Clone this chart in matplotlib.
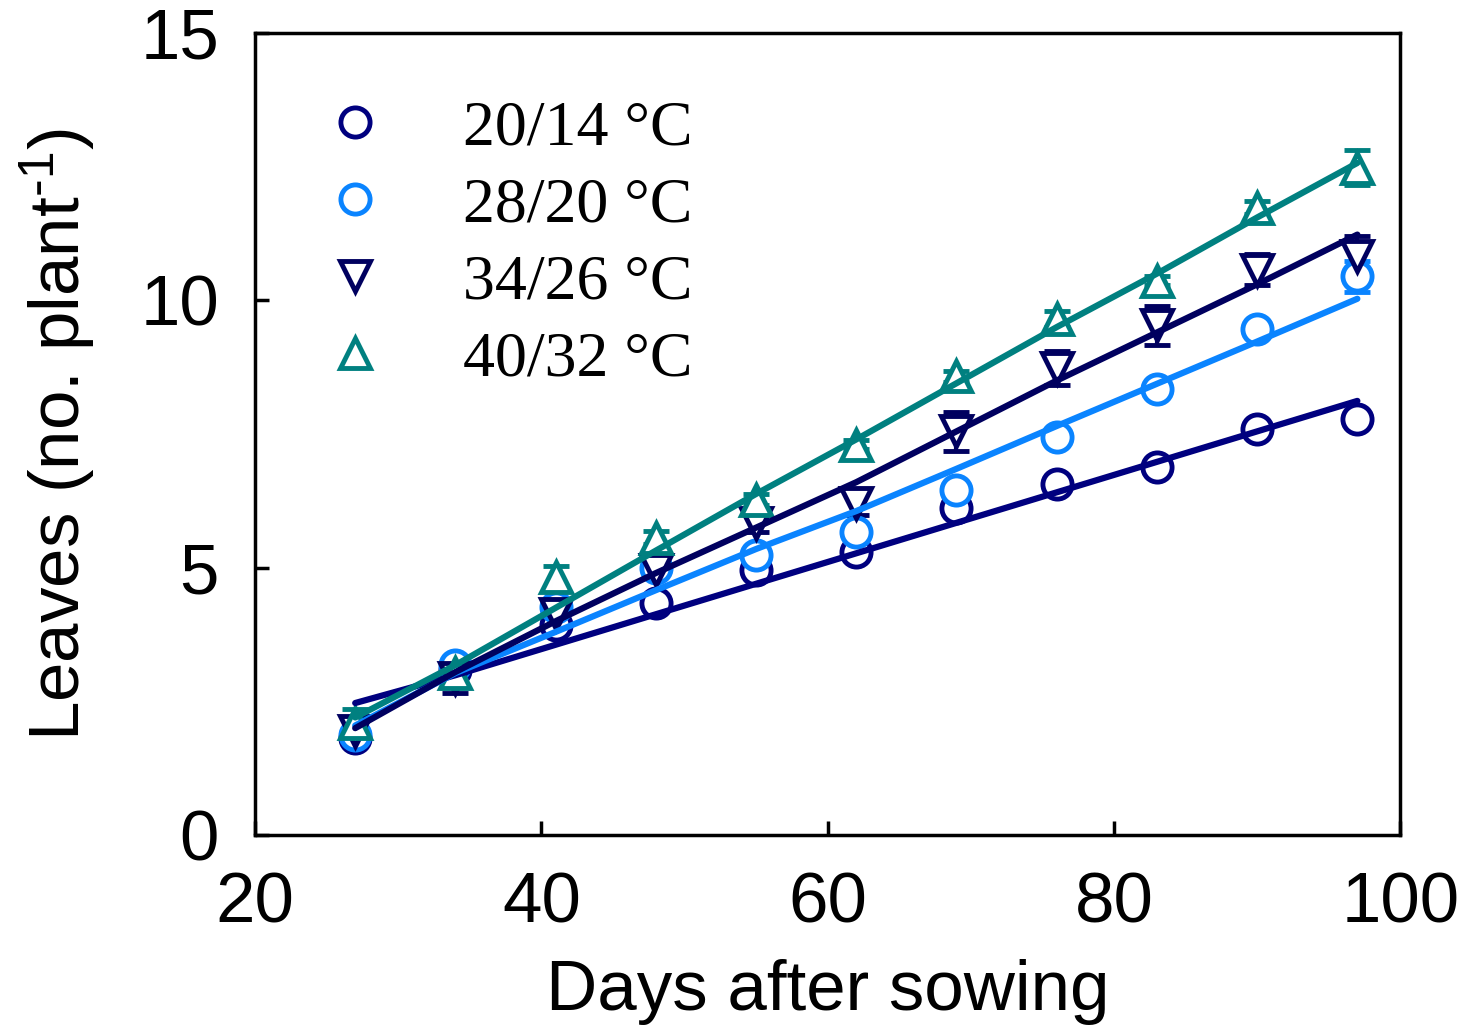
import matplotlib
matplotlib.use("Agg")
import matplotlib.pyplot as plt
from matplotlib.lines import Line2D

days = [27, 34, 41, 48, 55, 62, 69, 76, 83, 90, 97]

# observed leaves (mean, se) and fitted lines per temperature regime
obs_20_14 = [1.82, 3.09, 3.93, 4.34, 4.96, 5.30, 6.12, 6.57, 6.89, 7.60, 7.78]
err_20_14 = [0.0, 0.0, 0.0, 0.0, 0.0, 0.0, 0.0, 0.0, 0.0, 0.0, 0.0]
fit_20_14 = [2.47, 2.99, 3.56, 4.13, 4.70, 5.27, 5.84, 6.41, 6.98, 7.55, 8.12]

obs_28_20 = [1.87, 3.18, 4.27, 5.00, 5.24, 5.67, 6.46, 7.45, 8.34, 9.46, 10.45]
err_28_20 = [0.0, 0.0, 0.0, 0.0, 0.0, 0.0, 0.0, 0.0, 0.0, 0.0, 0.29]
fit_28_20 = [2.05, 3.03, 3.80, 4.58, 5.35, 6.06, 6.85, 7.65, 8.44, 9.23, 10.03]

obs_34_26 = [1.95, 2.94, 4.14, 4.96, 5.84, 6.21, 7.55, 8.74, 9.53, 10.57, 10.83]
err_34_26 = [0.10, 0.28, 0.10, 0.10, 0.17, 0.22, 0.37, 0.32, 0.37, 0.29, 0.38]
fit_34_26 = [2.00, 3.05, 4.00, 4.90, 5.75, 6.60, 7.55, 8.50, 9.40, 10.30, 11.23]

obs_40_32 = [2.10, 3.03, 4.83, 5.56, 6.27, 7.30, 8.58, 9.66, 10.37, 11.73, 12.48]
err_40_32 = [0.25, 0.10, 0.20, 0.12, 0.10, 0.08, 0.10, 0.15, 0.08, 0.12, 0.33]
fit_40_32 = [2.20, 3.18, 4.25, 5.32, 6.38, 7.40, 8.45, 9.50, 10.50, 11.55, 12.57]

labels = ["20/14 °C", "28/20 °C", "34/26 °C", "40/32 °C"]
colors = ["#00007f", "#0a84ff", "#00005f", "#008080"]
markers = ["o", "o", "v", "^"]

plt.rcParams['font.family'] = ['Liberation Sans', 'DejaVu Sans']
fig = plt.figure(figsize=(14.74, 10.31), dpi=100)
ax = fig.add_axes([0.173, 0.190, 0.777, 0.778])

series = [(obs_20_14, err_20_14, fit_20_14),
          (obs_28_20, err_28_20, fit_28_20),
          (obs_34_26, err_34_26, fit_34_26),
          (obs_40_32, err_40_32, fit_40_32)]

handles = []
for (obs, err, fit), c, m, lab in zip(series, colors, markers, labels):
    ax.errorbar(days, obs, yerr=err, fmt=m, color=c, mfc='white', mec=c,
                ms=21, mew=3.5, elinewidth=3, capsize=9.5, capthick=3.5, zorder=2)
    ax.plot(days, fit, color=c, lw=4.5, zorder=3, solid_capstyle='round')
    handles.append(Line2D([], [], ls='none', marker=m, color=c, mfc='white',
                          mec=c, ms=21, mew=3.5))

ax.set_xlim(20, 100)
ax.set_ylim(0, 15)
ax.set_xticks([20, 40, 60, 80, 100])
ax.set_yticks([0, 5, 10, 15])
ax.tick_params(direction='in', length=10, width=2.5, labelsize=51, pad=26)
for sp in ax.spines.values():
    sp.set_linewidth(2.5)

ax.set_xlabel("Days after sowing", fontsize=51, labelpad=16)
ax.set_ylabel(r"Leaves (no. plant$\mathregular{^{\text{-}1}}$)", fontsize=51, labelpad=30)

ax.legend(handles, labels, loc='upper left', bbox_to_anchor=(0.004, 0.989),
          frameon=False, handlelength=1.2, handletextpad=1.08, labelspacing=0.29,
          prop={'family': 'Liberation Serif', 'size': 46})

fig.savefig("out.png", dpi=100)
